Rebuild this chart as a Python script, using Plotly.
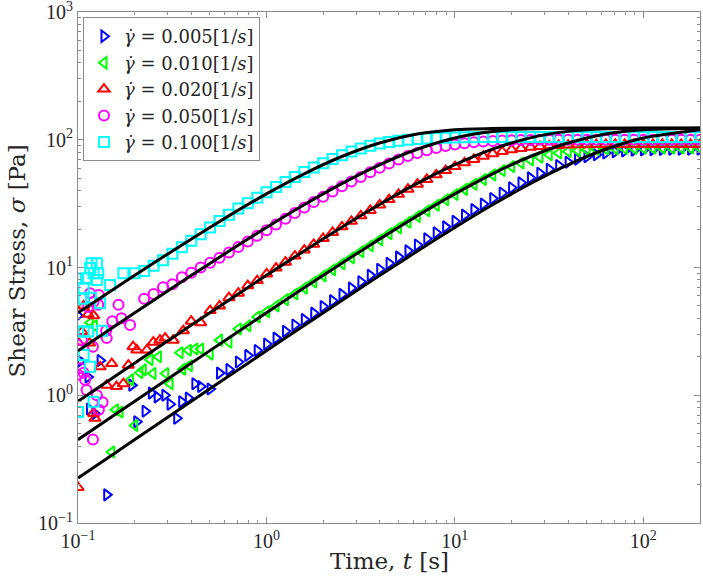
import plotly.graph_objects as go

# ---------------- data ----------------
rates = ["0.005", "0.010", "0.020", "0.050", "0.100"]
colors = ["#0000ff", "#00ff00", "#ff0000", "#ff00ff", "#00ffff"]
symbols = ["triangle-right-open", "triangle-left-open", "triangle-up-open", "circle-open", "square-open"]

# common sampling times of the regular (dense) part of the measurements [s]
t_grid = [0.2, 0.2244, 0.2518, 0.2825, 0.317, 0.3557, 0.3991, 0.4477, 0.5024, 0.5637,
          0.6325, 0.7096, 0.7962, 0.8934, 1.0024, 1.1247, 1.2619, 1.4159, 1.5887, 1.7825,
          2.0, 2.244, 2.518, 2.825, 3.170, 3.557, 3.991, 4.477, 5.024, 5.637,
          6.325, 7.096, 7.962, 8.934, 10.02, 11.25, 12.62, 14.16, 15.89, 17.83,
          20.0, 22.44, 25.18, 28.25, 31.70, 35.57, 39.91, 44.77, 50.24, 56.37,
          63.25, 70.96, 79.62, 89.34, 100.2, 112.5, 126.2, 141.6, 158.9, 178.3, 200.0]

N = None
stress_005 = [N, N, N, N, N, N, N,
              1.17, 1.12, 1.49, 1.59, 1.82, 2.05, 2.24, 2.52, 2.8, 3.17, 3.55, 3.92, 4.39,
              4.95, 5.5, 6.16, 6.9, 7.74, 8.68, 9.7, 10.8, 12.1, 13.5, 15.0, 16.8, 18.7,
              20.8, 23.0, 25.7, 28.4, 31.4, 34.7, 38.3, 42.1, 46.1, 50.3, 54.6, 58.8,
              62.9, 66.7, 70.3, 73.6, 76.4, 78.7, 80.5, 81.8, 82.7, 83.3, 83.7, 84.0,
              84.2, 84.3, 84.4, 84.5]
stress_010 = [N, N, N, N, N, N, N,
              2.3, 2.1, 2.7, 2.6, 3.3, 3.5, 4.1, 4.5, 5.0, 5.6, 6.2, 6.9, 7.7,
              8.6, 9.6, 10.7, 11.9, 13.3, 14.8, 16.5, 18.4, 20.4, 22.6, 25.1, 27.8, 30.7,
              33.9, 37.3, 40.9, 44.8, 48.9, 53.1, 57.4, 61.6, 65.7, 69.5, 73.0, 76.3,
              78.8, 80.8, 82.2, 83.3, 84.1, 84.7, 85.1, 85.4, 85.6, 85.8, 85.9, 86.0,
              86.0, 86.1, 86.1, 86.1]
stress_020 = [N, N, N, N, N, N,
              3.8, 3.7, 4.6, 5.0, 5.8, 6.3, 7.2, 7.9, 8.9, 9.9, 11.0, 12.3, 13.7,
              15.2, 16.9, 18.8, 20.8, 23.0, 25.4, 28.0, 30.9, 34.0, 37.4, 41.0, 44.9,
              48.9, 53.1, 57.4, 61.7, 66.0, 70.2, 74.2, 77.8, 80.9, 83.5, 85.6, 87.3,
              88.6, 89.6, 90.3, 90.8, 91.2, 91.5, 91.7, 91.8, 91.9, 92.0, 92.0, 92.0,
              92.0, 92.0, 92.0, 92.0, 92.0, 92.0]
stress_050 = [N,
              5.7, 6.2, 7.0, 7.4, 8.4, 9.1, 10.0, 10.9, 11.9, 13.1, 14.5, 16.0, 17.7,
              19.6, 21.7, 24.1, 26.7, 29.5, 32.5, 35.8, 39.4, 43.2, 47.2, 51.2, 55.6,
              60.3, 65.2, 70.0, 74.6, 78.9, 82.8, 86.3, 89.3, 91.8, 93.9, 95.5, 96.8,
              97.8, 98.5, 99.0, 99.4, 99.7, 99.9, 100.0, 100.0, 100.0, 100.0, 100.0,
              100.0, 100.0, 100.0, 100.0, 100.0, 100.0, 100.0, 100.0, 100.0, 100.0,
              100.0, 100.0]
stress_100 = [9.0, 9.4, 10.3, 11.4, 12.8, 14.4, 16.2, 18.2, 20.6, 23.1, 25.9, 28.9,
              31.9, 35.2, 38.8, 42.7, 46.8, 51.2, 55.8, 60.6, 65.6, 70.7, 75.8, 80.9,
              85.6, 89.9, 93.3, 95.9, 98.1, 99.8, 101.2, 102.3, 103.1, 103.7, 104.2,
              104.5, 104.7, 104.9, 105.0, 105.0, 105.0, 105.0, 105.0, 105.0, 105.0,
              105.0, 105.0, 105.0, 105.0, 105.0, 105.0, 105.0, 105.0, 105.0, 105.0,
              105.0, 105.0, 105.0, 105.0, 105.0, 105.0]

# scattered start-up readings (t < ~0.45 s)
early_t_005 = [0.1, 0.103, 0.113, 0.115, 0.123, 0.131, 0.142, 0.193, 0.205, 0.227,
               0.245, 0.263, 0.289, 0.308, 0.334, 0.355, 0.385, 0.417]
early_s_005 = [4.2, 1.85, 1.39, 0.78, 0.72, 1.87, 0.166, 1.2, 0.62, 0.75,
               1.04, 0.97, 1.0, 0.85, 0.66, 0.89, 0.95, 1.23]
early_t_010 = [0.116, 0.122, 0.151, 0.158, 0.167, 0.2, 0.19, 0.213, 0.222, 0.241,
               0.25, 0.267, 0.292, 0.308, 0.348, 0.36, 0.385, 0.39, 0.417]
early_s_010 = [3.7, 3.5, 0.36, 0.77, 0.74, 0.58, 1.32, 1.5, 1.58, 1.9,
               1.48, 2.0, 1.48, 1.23, 2.15, 1.6, 2.25, 1.7, 2.3]
early_t_020 = [0.1, 0.1, 0.105, 0.107, 0.113, 0.115, 0.121, 0.121, 0.123, 0.131,
               0.142, 0.151, 0.16, 0.174, 0.185, 0.196, 0.205, 0.232, 0.251, 0.272,
               0.29, 0.32, 0.362]
early_s_020 = [0.19, 2.6, 3.15, 5.0, 4.3, 2.56, 4.2, 0.72, 0.66, 1.67,
               1.2, 1.77, 1.17, 1.23, 1.72, 2.4, 2.26, 2.26, 2.6, 2.7,
               2.8, 2.7, 3.2]
early_t_050 = [0.1, 0.1, 0.103, 0.105, 0.107, 0.109, 0.111, 0.113, 0.116, 0.12,
               0.12, 0.121, 0.126, 0.128, 0.129, 0.129, 0.135, 0.141, 0.142, 0.152,
               0.164, 0.17, 0.189]
early_s_050 = [2.47, 1.45, 1.63, 2.7, 1.5, 1.32, 1.1, 4.9, 6.3, 0.45,
               2.4, 5.4, 1.0, 5.1, 6.1, 0.77, 0.88, 3.2, 2.8, 3.8,
               5.1, 4.0, 3.55]
early_t_100 = [0.1, 0.1, 0.1, 0.107, 0.107, 0.107, 0.107, 0.11, 0.113, 0.116,
               0.116, 0.117, 0.118, 0.121, 0.121, 0.126, 0.126, 0.128, 0.131, 0.134,
               0.148, 0.174]
early_s_100 = [8.2, 3.15, 0.74, 6.9, 5.7, 3.15, 2.07, 8.2, 3.15, 9.9,
               1.67, 5.8, 10.8, 9.0, 0.89, 10.8, 8.0, 9.0, 5.25, 3.2,
               7.3, 9.0]

# model fits (black curves)
fit_t = [0.1, 0.158, 0.251, 0.398, 0.631, 1.0, 1.585, 2.512, 3.981, 6.31,
         10.0, 15.85, 25.12, 39.81, 63.1, 100.0, 200.0]
fit_005 = [0.225, 0.355, 0.564, 0.893, 1.412, 2.230, 3.516, 5.526, 8.642, 13.41,
           20.57, 30.97, 45.33, 63.64, 84.24, 103.3, 119.8]
fit_010 = [0.449, 0.709, 1.125, 1.779, 2.808, 4.420, 6.932, 10.80, 16.68, 25.37,
           37.70, 54.14, 73.95, 94.35, 110.8, 119.8, 122.9]
fit_020 = [0.897, 1.414, 2.239, 3.532, 5.552, 8.683, 13.47, 20.66, 31.09, 45.50,
           63.84, 84.45, 103.4, 116.3, 121.8, 122.9, 123.0]
fit_050 = [2.230, 3.506, 5.522, 8.640, 13.41, 20.57, 30.97, 45.33, 63.64, 84.24,
           103.3, 116.2, 121.8, 122.9, 123.0, 123.0, 123.0]
fit_100 = [4.420, 6.911, 10.80, 16.67, 25.37, 37.70, 54.14, 73.95, 94.35, 110.8,
           119.8, 122.6, 123.0, 123.0, 123.0, 123.0, 123.0]

x_tick_vals = [0.1, 1, 10, 100]
x_tick_text = ["10<sup>\u22121</sup>", "10<sup>0</sup>", "10<sup>1</sup>", "10<sup>2</sup>"]
y_tick_vals = [0.1, 1, 10, 100, 1000]
y_tick_text = ["10<sup>\u22121</sup>", "10<sup>0</sup>", "10<sup>1</sup>", "10<sup>2</sup>", "10<sup>3</sup>"]

x_title = "Time, <i>t</i> [s]"
y_title = "Shear Stress, <i>\u03c3</i> [Pa]"

# ---------------- figure ----------------
main_series = [stress_005, stress_010, stress_020, stress_050, stress_100]
early_t = [early_t_005, early_t_010, early_t_020, early_t_050, early_t_100]
early_s = [early_s_005, early_s_010, early_s_020, early_s_050, early_s_100]
fits = [fit_005, fit_010, fit_020, fit_050, fit_100]

TICKFONT = "Liberation Serif, Times New Roman, serif"
TEXTFONT = "DejaVu Serif, serif"
fig = go.Figure()

for i in range(5):
    xs = list(early_t[i])
    ys = list(early_s[i])
    for t, s in zip(t_grid, main_series[i]):
        if s is not None:
            xs.append(t)
            ys.append(s)
    fig.add_trace(go.Scatter(
        x=xs, y=ys, mode="markers",
        name="<i>\u03b3\u0307</i> = " + rates[i] + "[1/<i>s</i>]",
        marker=dict(symbol=symbols[i], size=10, color=colors[i],
                    line=dict(width=2, color=colors[i])),
    ))

for i in range(5):
    fig.add_trace(go.Scatter(
        x=fit_t, y=fits[i], mode="lines", showlegend=False,
        line=dict(color="black", width=3, shape="spline", smoothing=0.6),
    ))

axis_common = dict(
    type="log", showgrid=False, zeroline=False,
    showline=True, linecolor="#8c8c8c", linewidth=1, mirror="ticks",
    ticks="inside", ticklen=6, tickcolor="#8c8c8c", tickwidth=1,
    tickfont=dict(family=TICKFONT, size=20, color="#262626"),
    ticklabeloverflow="allow",
)

x_minor = [m * 10.0 ** e for e in range(-1, 3) for m in range(2, 10)]
y_minor = [m * 10.0 ** e for e in range(-1, 3) for m in range(2, 10)]

fig.update_xaxes(
    **axis_common, range=[-1.0001, 2.30103],
    tickvals=x_tick_vals, ticktext=x_tick_text,
    minor=dict(tickvals=x_minor, ticks="inside", ticklen=3, tickcolor="#8c8c8c", showgrid=False),
)
fig.update_yaxes(
    **axis_common, range=[-1.0001, 3.0001],
    tickvals=y_tick_vals, ticktext=y_tick_text,
    minor=dict(tickvals=y_minor, ticks="inside", ticklen=3, tickcolor="#8c8c8c", showgrid=False),
)

# axis titles placed as annotations for exact positioning
fig.add_annotation(text=x_title, xref="paper", yref="paper", x=0.5, y=-0.0744,
                   xanchor="center", yanchor="middle", showarrow=False,
                   font=dict(family=TEXTFONT, size=23, color="#262626"))
fig.add_annotation(text=y_title, xref="paper", yref="paper", x=-0.098, y=0.512,
                   xanchor="center", yanchor="middle", showarrow=False, textangle=-90,
                   font=dict(family=TEXTFONT, size=23, color="#262626"))

fig.update_layout(
    width=703, height=581,
    margin=dict(l=78, r=3, t=12, b=58, autoexpand=False),
    plot_bgcolor="white", paper_bgcolor="white",
    font=dict(family=TEXTFONT, size=20, color="#262626"),
    legend=dict(x=0.008, y=0.99, xanchor="left", yanchor="top",
                bgcolor="white", bordercolor="#8c8c8c", borderwidth=1,
                font=dict(family=TEXTFONT, size=18, color="#262626"),
                tracegroupgap=0, itemwidth=30),
    showlegend=True,
)

# remove the browser's default 8 px page margin so the figure fills the window
fig.write_html("out.html", config={"displayModeBar": False},
               post_script="document.body.style.margin='0px';")
